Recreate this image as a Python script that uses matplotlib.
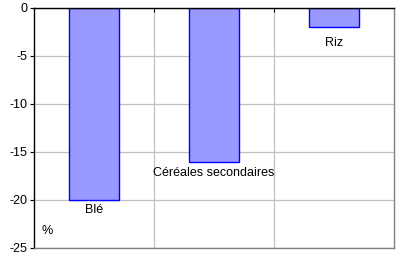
import matplotlib
matplotlib.use('Agg')
import matplotlib.pyplot as plt

plt.rcParams['font.family'] = ['Liberation Sans', 'DejaVu Sans']
plt.rcParams['axes.unicode_minus'] = False

# data
categories = ['Blé', 'Céréales secondaires', 'Riz']
values = [-20, -16, -2]
y_ticks = [0, -5, -10, -15, -20, -25]

BAR_FC = '#9999FF'
BAR_EC = '#0000FF'
GRID_C = '#C0C0C0'
FS = 9

fig = plt.figure(figsize=(3.99, 2.57), dpi=100)
ax = fig.add_axes([34 / 399, 9 / 257, 360 / 399, 240 / 257])

x = list(range(len(categories)))
ax.bar(x, values, width=0.41, color=BAR_FC, edgecolor=BAR_EC, linewidth=1.0, zorder=3)

ax.set_xlim(-0.5, len(categories) - 0.5)
ax.set_ylim(-25, 0)
ax.set_yticks(y_ticks)
ax.set_yticklabels([str(v) for v in y_ticks], fontsize=FS)
ax.tick_params(axis='y', direction='out', length=3, width=0.8, pad=2)

# category boundaries on the top (zero) axis
ax.xaxis.tick_top()
ax.set_xticks([i + 0.5 for i in x[:-1]])
ax.set_xticklabels([])
ax.tick_params(axis='x', direction='in', length=3, width=0.8)

ax.grid(True, color=GRID_C, lw=0.9, zorder=0)
ax.set_axisbelow(True)

for side in ('left', 'top'):
    ax.spines[side].set_color('black')
    ax.spines[side].set_linewidth(1.0)
for side in ('right', 'bottom'):
    ax.spines[side].set_color('#808080')
    ax.spines[side].set_linewidth(1.0)
ax.spines['top'].set_zorder(4)

# data labels below bar ends
offsets = [-3, -4, -7]
for xi, v, lab, off in zip(x, values, categories, offsets):
    ax.annotate(lab, (xi, v), xytext=(0, off), textcoords='offset points',
                ha='center', va='top', fontsize=FS)

ax.text(0.036, 0.07, '%', transform=ax.transAxes, ha='center', va='center', fontsize=FS)

fig.savefig('out.png', dpi=100, facecolor='white')
